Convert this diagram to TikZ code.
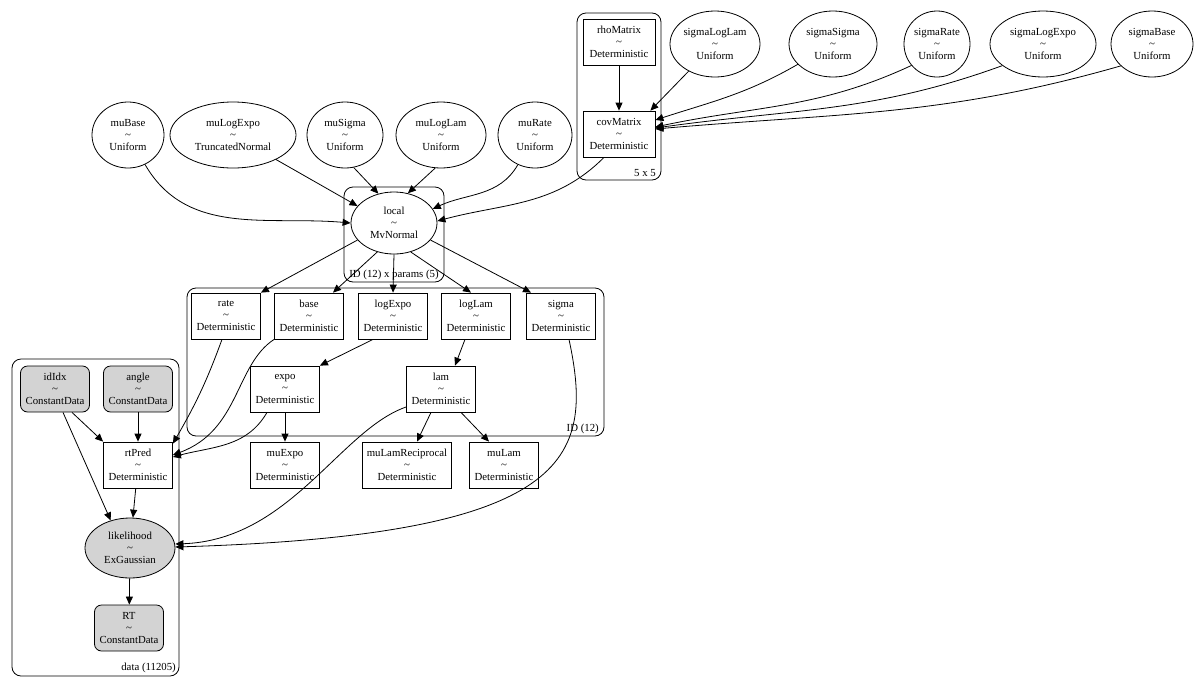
\documentclass[tikz,border=0pt]{standalone}
\usepackage{fontspec}
\setmainfont{Liberation Serif}
\usetikzlibrary{arrows.meta,shapes.geometric}
\definecolor{obsgray}{HTML}{D3D3D3}

\begin{document}
\begin{tikzpicture}[x=1pt,y=-1pt]
		
		\tikzset{rv/.style = {shape=ellipse,draw,line width=0.8pt,inner sep=0pt,minimum height=66pt,align=center,font=\fontsize{10.8}{12}\selectfont}}
		\tikzset{det/.style = {shape=rectangle,draw,line width=0.8pt,inner sep=1pt,minimum width=69pt,minimum height=46pt,align=center,font=\fontsize{10.8}{12}\selectfont}}
		\tikzset{obs/.style = {det,rounded corners=7pt,fill=obsgray}}
		\tikzset{plate/.style = {draw,line width=0.8pt,rounded corners=9pt}}
		\tikzset{platelabel/.style = {inner sep=0pt,font=\fontsize{10.8}{12}\selectfont}}
		\tikzset{edge/.style = {line width=0.8pt,-{Triangle[length=8pt,width=7pt]}}}
		\useasboundingbox (0,0) rectangle (1200,686);
		% plates
		\draw[plate] (577,13) rectangle (661,180);
		\draw[plate] (344,187) rectangle (444,282);
		\draw[plate] (187,288) rectangle (604,436);
		\draw[plate] (12,359) rectangle (179,676);
		\node[platelabel,anchor=base east] (covLbl) at (656,176) {5 x 5};
		\node[platelabel,anchor=base] (localLbl) at (394,277) {ID (12) x params (5)};
		\node[platelabel,anchor=base east] (idLbl) at (599,431) {ID (12)};
		\node[platelabel,anchor=base east] (dataLbl) at (176,670) {data (11205)};
		% vertices
		\node[det,minimum width=72pt] (rhoMatrix) at (619,42) {rhoMatrix\\\textasciitilde\\Deterministic};
		\node[det,minimum width=72pt] (covMatrix) at (619,134) {covMatrix\\\textasciitilde\\Deterministic};
		\node[rv,minimum width=90pt] (sigmaLogLam) at (715,44) {sigmaLogLam\\\textasciitilde\\Uniform};
		\node[rv,minimum width=88pt] (sigmaSigma) at (833,44) {sigmaSigma\\\textasciitilde\\Uniform};
		\node[rv,minimum width=66pt] (sigmaRate) at (937,44) {sigmaRate\\\textasciitilde\\Uniform};
		\node[rv,minimum width=106pt] (sigmaLogExpo) at (1043,44) {sigmaLogExpo\\\textasciitilde\\Uniform};
		\node[rv,minimum width=82pt] (sigmaBase) at (1152,44) {sigmaBase\\\textasciitilde\\Uniform};
		\node[rv,minimum width=72pt] (muBase) at (128,135) {muBase\\\textasciitilde\\Uniform};
		\node[rv,minimum width=126pt] (muLogExpo) at (233,135) {muLogExpo\\\textasciitilde\\TruncatedNormal};
		\node[rv,minimum width=76pt] (muSigma) at (345,135) {muSigma\\\textasciitilde\\Uniform};
		\node[rv,minimum width=90pt] (muLogLam) at (441,135) {muLogLam\\\textasciitilde\\Uniform};
		\node[rv,minimum width=74pt] (muRate) at (535,135) {muRate\\\textasciitilde\\Uniform};
		\node[rv,minimum width=86pt,minimum height=62pt] (local) at (394,223) {local\\\textasciitilde\\MvNormal};
		\node[det] (rate) at (226,316) {rate\\\textasciitilde\\Deterministic};
		\node[det] (base) at (309,316) {base\\\textasciitilde\\Deterministic};
		\node[det] (logExpo) at (393,316) {logExpo\\\textasciitilde\\Deterministic};
		\node[det] (logLam) at (476,316) {logLam\\\textasciitilde\\Deterministic};
		\node[det] (sigma) at (561,316) {sigma\\\textasciitilde\\Deterministic};
		\node[det] (expo) at (285,389) {expo\\\textasciitilde\\Deterministic};
		\node[det] (lam) at (441,389) {lam\\\textasciitilde\\Deterministic};
		\node[det] (muExpo) at (285,465) {muExpo\\\textasciitilde\\Deterministic};
		\node[det,minimum width=89pt] (muLamReciprocal) at (407,465) {muLamReciprocal\\\textasciitilde\\Deterministic};
		\node[det] (muLam) at (504,465) {muLam\\\textasciitilde\\Deterministic};
		\node[obs] (idIdx) at (55,389) {idIdx\\\textasciitilde\\ConstantData};
		\node[obs] (angle) at (138,389) {angle\\\textasciitilde\\ConstantData};
		\node[det] (rtPred) at (138,465) {rtPred\\\textasciitilde\\Deterministic};
		\node[rv,fill=obsgray,minimum width=90pt,minimum height=60pt] (likelihood) at (130,548) {likelihood\\\textasciitilde\\ExGaussian};
		\node[obs] (RT) at (129,628) {RT\\\textasciitilde\\ConstantData};
		% edges
		\draw[edge] (rhoMatrix) -- (covMatrix);
		\draw[edge] (sigmaLogLam) -- ([xshift=-5pt]covMatrix.north east);
		\draw[edge] (sigmaSigma.210) to[out=210,in=18] ([yshift=14pt]covMatrix.east);
		\draw[edge] (sigmaRate.220) to[out=205,in=12] ([yshift=7pt]covMatrix.east);
		\draw[edge] (sigmaLogExpo.208) to[out=200,in=8] ([yshift=6pt]covMatrix.east);
		\draw[edge] (sigmaBase.215) to[out=196,in=5] ([yshift=5pt]covMatrix.east);
		\draw[edge] ([xshift=-15pt]covMatrix.south) to[out=225,in=15] ([yshift=2pt]local.east);
		\draw[edge] (muBase) to[out=300,in=175] (local.west);
		\draw[edge] (muLogExpo) -- (local.155);
		\draw[edge] (muSigma.285) -- (local.118);
		\draw[edge] (muLogLam.260) -- (local.65);
		\draw[edge] (muRate) to[out=240,in=25] (local.20);
		\draw[edge] (local.205) -- (rate.north east);
		\draw[edge] (local.240) -- ([xshift=24pt]base.north);
		\draw[edge] (local.south) -- (logExpo.north);
		\draw[edge] (local.300) -- ([xshift=-5pt]logLam.north);
		\draw[edge] (local.335) -- ([xshift=-30pt]sigma.north);
		\draw[edge] ([xshift=-20pt]logExpo.south) -- (expo.north east);
		\draw[edge] ([xshift=-11pt]logLam.south) -- ([xshift=14pt]lam.north);
		\draw[edge] ([xshift=-4pt]rate.south) to[out=250,in=60] ([yshift=-2pt]rtPred.north east);
		\draw[edge] (base.south west) .. controls (235,365) and (240,430) .. ([yshift=10pt]rtPred.east);
		\draw[edge] ([xshift=-18pt]expo.south) to[out=240,in=15] ([yshift=8pt]rtPred.east);
		\draw[edge] (expo) -- (muExpo);
		\draw[edge] ([xshift=-10pt]lam.south) -- ([xshift=10pt]muLamReciprocal.north);
		\draw[edge] ([xshift=20pt]lam.south) -- ([xshift=-15pt]muLam.north);
		\draw[edge] ([yshift=-18pt]lam.west) .. controls (340,430) and (290,540) .. ([yshift=4pt]likelihood.east);
		\draw[edge] ([xshift=8pt]sigma.south) .. controls (595,460) and (570,535) .. ([yshift=1pt]likelihood.east);
		\draw[edge] ([xshift=17pt]idIdx.south) -- (rtPred.north west);
		\draw[edge] ([xshift=8pt]idIdx.south) -- (likelihood.125);
		\draw[edge] (angle) -- (rtPred);
		\draw[edge] (rtPred) -- (likelihood);
		\draw[edge] (likelihood) -- (RT);
\end{tikzpicture}
\end{document}
